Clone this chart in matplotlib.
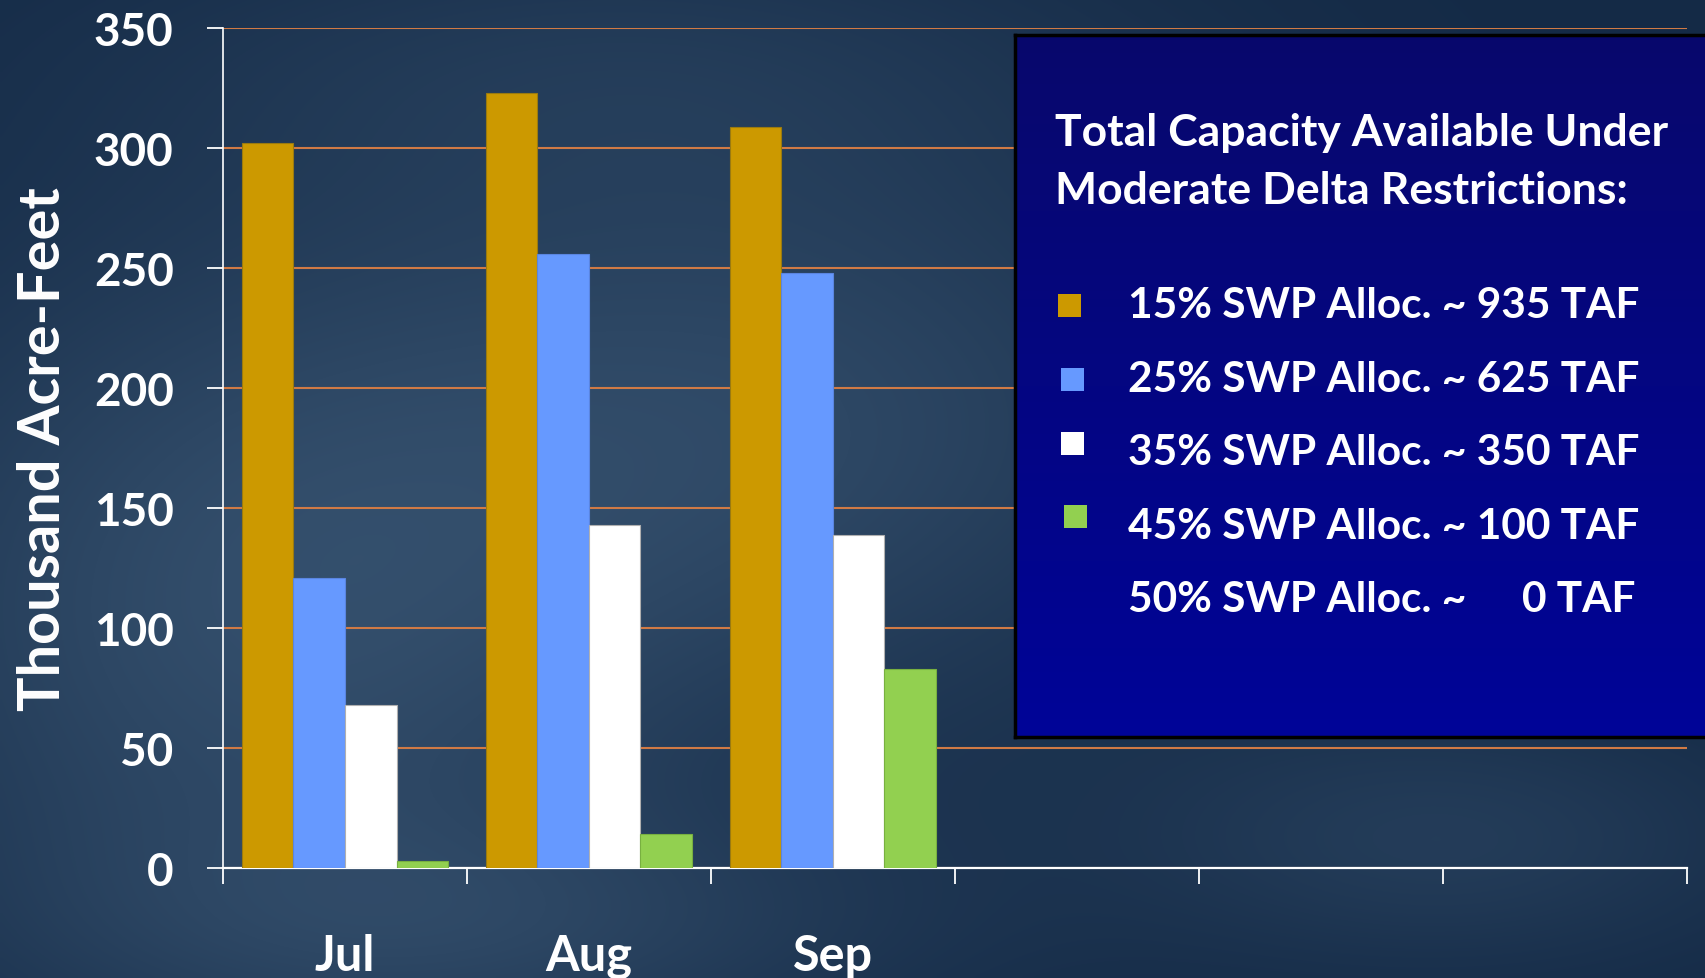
import numpy as np
import matplotlib
matplotlib.use("Agg")
import matplotlib.pyplot as plt
from matplotlib.patches import Rectangle

# ---- data ----
months = ["Jul", "Aug", "Sep", "", "", ""]
series_names = ["15% SWP Alloc. ~ 935 TAF", "25% SWP Alloc. ~ 625 TAF",
                "35% SWP Alloc. ~ 350 TAF", "45% SWP Alloc. ~ 100 TAF"]
alloc15 = [302, 323, 309]
alloc25 = [121, 256, 248]
alloc35 = [68, 143, 139]
alloc45 = [3, 14, 83]
colors = ["#CC9900", "#6699FF", "#FFFFFF", "#92D050"]
edges = ["#9a7a10", "#5a85e0", "#b0b0b0", "#78b040"]
yticks = [0, 50, 100, 150, 200, 250, 300, 350]
legend_title = "Total Capacity Available Under\nModerate Delta Restrictions:"
last_line = ("50% SWP Alloc. ~", "0 TAF")

W, H = 1705, 979
plt.rcParams['font.family'] = ['Lato', 'DejaVu Sans']
fig = plt.figure(figsize=(W / 100, H / 100), dpi=100)

# ---- background ----
bg = fig.add_axes([0, 0, 1, 1], zorder=-10)
yy, xx = np.mgrid[0:H:4, 0:W:4].astype(float)
base = np.array([20, 42, 70], float)
light = np.array([70, 100, 130], float)
w = (0.55 * np.exp(-(((xx - 250) / 420) ** 2 + ((yy - 620) / 380) ** 2))
     + 0.45 * np.exp(-(((xx - 800) / 450) ** 2 + ((yy - 420) / 300) ** 2))
     + 0.3 * np.exp(-(((xx - 1450) / 320) ** 2 + ((yy - 840) / 130) ** 2))
     + 0.3 * np.exp(-(((xx - 500) / 450) ** 2 + ((yy - 930) / 120) ** 2))
     + 0.2 * np.exp(-(((xx - 600) / 500) ** 2 + ((yy - 60) / 150) ** 2)))
w = np.clip(w, 0, 1)
img = base[None, None, :] * (1 - w[..., None]) + light[None, None, :] * w[..., None]
bg.imshow(img / 255.0, extent=[0, W, H, 0], aspect='auto', interpolation='bilinear')
bg.set_xlim(0, W); bg.set_ylim(H, 0)
bg.axis('off')

# ---- main axes ----
x0, x1 = 223, 1686.5
ytop, ybot = 29.3, 869
ax = fig.add_axes([x0 / W, 1 - ybot / H, (x1 - x0) / W, (ybot - ytop) / H])
ax.set_facecolor('none')

data = [alloc15, alloc25, alloc35, alloc45]
bw = 0.2114
xs = np.arange(len(alloc15))
for i, vals in enumerate(data):
    ax.bar(xs + (i - 1.5) * bw, vals, width=bw, color=colors[i],
           edgecolor=edges[i], linewidth=0.8, zorder=3)

ax.set_xlim(-0.5, len(months) - 0.5)
ax.set_ylim(0, 350)
ax.set_yticks(yticks)
ax.set_yticklabels([str(v) for v in yticks])
ax.set_xticks(np.arange(-0.5, len(months), 1.0))
ax.set_xticklabels([])
ax.set_xticks(np.arange(len(months)), minor=True)
ax.set_xticklabels(months, minor=True)
ax.tick_params(axis='x', which='major', length=11.5, width=1.3, color='white', direction='out')
ax.tick_params(axis='x', which='minor', length=0, pad=47, labelsize=35, labelcolor='white')
ax.tick_params(axis='y', length=11.5, width=1.3, color='white', pad=24, labelsize=33, labelcolor='white')
for lab in ax.get_xticklabels(minor=True) + ax.get_yticklabels():
    lab.set_fontweight('bold')
for s in ['top', 'right']:
    ax.spines[s].set_visible(False)
ax.spines['left'].set_color('white'); ax.spines['left'].set_linewidth(1.2)
ax.spines['bottom'].set_color('white'); ax.spines['bottom'].set_linewidth(1.6)
ax.yaxis.grid(True, color='#d07a45', linewidth=1.5, zorder=1)
ax.set_axisbelow(True)
ax.set_ylabel("Thousand Acre-Feet", fontsize=41.5, fontweight='bold', color='white', labelpad=17)

# ---- legend box ----
lx0, ly0, ly1 = 1015, 36, 738
lax = fig.add_axes([lx0 / W, 1 - ly1 / H, (W + 20 - lx0) / W, (ly1 - ly0) / H], zorder=5)
grad = np.linspace(0, 1, 200)[:, None]
top_c = np.array([8, 8, 108]) / 255.0
bot_c = np.array([0, 4, 152]) / 255.0
gimg = top_c[None, None, :] * (1 - grad[..., None]) + bot_c[None, None, :] * grad[..., None]
gimg = np.repeat(gimg, 2, axis=1)
lax.imshow(gimg, extent=[0, 1, 0, 1], aspect='auto', interpolation='bilinear')
lax.set_xticks([]); lax.set_yticks([])
for s in lax.spines.values():
    s.set_color('black'); s.set_linewidth(2.5)

def ftext(x, y, s, **kw):
    fig.text(x / W, 1 - y / H, s, color='white', fontweight='bold', zorder=10, **kw)

ftext(1055, 146, legend_title.split("\n")[0], fontsize=32, va='baseline', ha='left')
ftext(1055, 204, legend_title.split("\n")[1], fontsize=32, va='baseline', ha='left')

baselines = [318.4, 391.9, 465.4, 538.9]
mk_centers = [(1069, 306.5), (1072, 380), (1072, 444), (1075, 517)]
for i, name in enumerate(series_names):
    ftext(1128, baselines[i], name, fontsize=30.5, va='baseline', ha='left')
    cx, cy = mk_centers[i]
    fig.patches.append(Rectangle(((cx - 11.5) / W, 1 - (cy + 11.5) / H), 23 / W, 23 / H,
                                 transform=fig.transFigure, facecolor=colors[i],
                                 edgecolor='none', zorder=11))
ftext(1128, 612.4, last_line[0], fontsize=30.5, va='baseline', ha='left')
ftext(1636, 612.4, last_line[1], fontsize=30.5, va='baseline', ha='right')

fig.savefig("out.png", dpi=100)
